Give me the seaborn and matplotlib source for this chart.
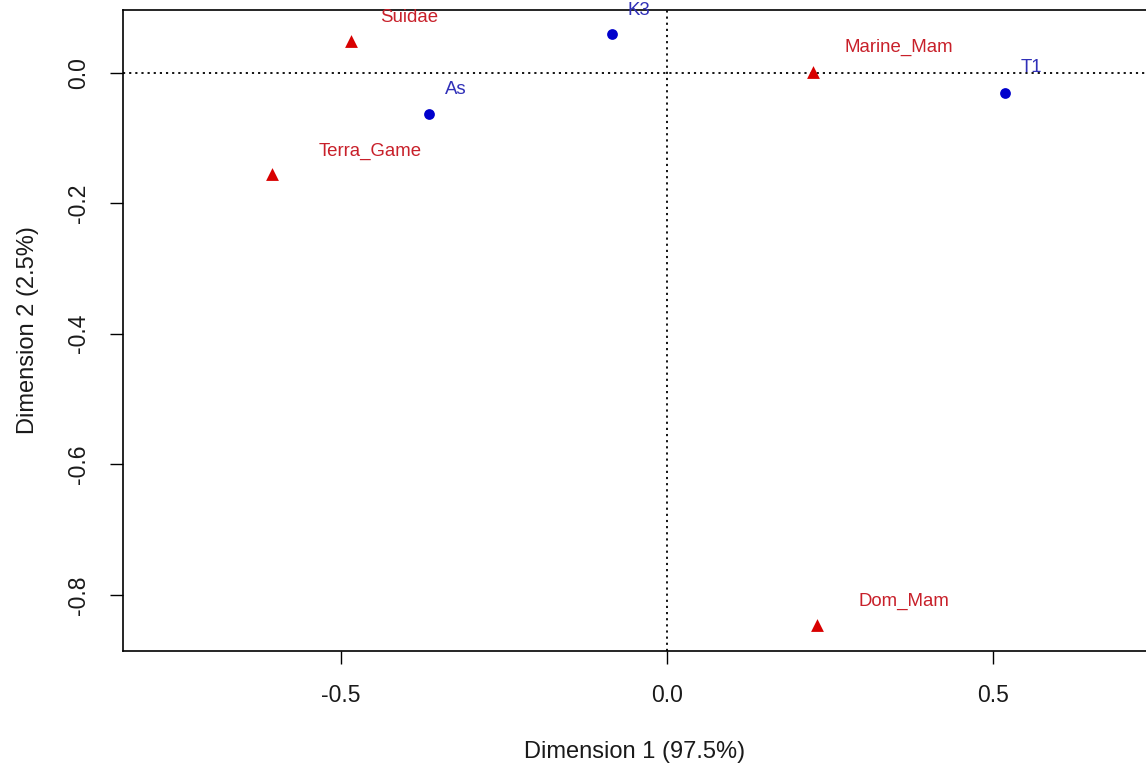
import matplotlib
matplotlib.use("Agg")
import matplotlib.pyplot as plt
import seaborn as sns
import pandas as pd

# Data
col_names = ["As", "K3", "T1"]
col_dim1 = [-0.364, -0.084, 0.519]
col_dim2 = [-0.063, 0.059, -0.031]

row_names = ["Suidae", "Terra_Game", "Marine_Mam", "Dom_Mam"]
row_dim1 = [-0.484, -0.605, 0.225, 0.230]
row_dim2 = [0.049, -0.155, 0.001, -0.846]

x_ticks = [-0.5, 0.0, 0.5]
y_ticks = [0.0, -0.2, -0.4, -0.6, -0.8]
x_label = "Dimension 1 (97.5%)"
y_label = "Dimension 2 (2.5%)"

# label offsets in pixels (label centre relative to marker)
label_offsets = {
    "As": (26, 24), "K3": (27, 24), "T1": (26, 25),
    "Suidae": (58, 23), "Terra_Game": (98, 22),
    "Marine_Mam": (85, 25), "Dom_Mam": (87, 23),
}

df = pd.DataFrame({
    "name": col_names + row_names,
    "dim1": col_dim1 + row_dim1,
    "dim2": col_dim2 + row_dim2,
    "kind": ["col"] * len(col_names) + ["row"] * len(row_names),
})

sns.set_style("white")
plt.rcParams["font.family"] = ["Liberation Sans", "DejaVu Sans"]
plt.rcParams["text.color"] = "black"
plt.rcParams["axes.labelcolor"] = "black"

fig = plt.figure(figsize=(11.46, 7.68), dpi=100)
ax = fig.add_axes([123 / 1146, 1 - 651 / 768, 1023 / 1146, 641 / 768])

marker_colors = {"col": "#0000cc", "row": "#d80000"}
text_colors = {"col": "#3030b8", "row": "#c8202a"}

ax.axhline(0, color="black", linestyle=(0, (1.2, 2.2)), linewidth=1.3, zorder=1)
ax.axvline(0, color="black", linestyle=(0, (1.2, 2.2)), linewidth=1.3, zorder=1)

sns.scatterplot(data=df[df.kind == "col"], x="dim1", y="dim2", ax=ax,
                color=marker_colors["col"], marker="o", s=60, linewidth=0,
                legend=False, zorder=3)
sns.scatterplot(data=df[df.kind == "row"], x="dim1", y="dim2", ax=ax,
                color=marker_colors["row"], marker="^", s=85, linewidth=0,
                legend=False, zorder=3)

for _, r in df.iterrows():
    dx, dy = label_offsets[r["name"]]
    ax.annotate(r["name"], (r["dim1"], r["dim2"]), xytext=(dx, dy),
                textcoords="offset pixels", ha="center", va="center",
                fontsize=13.4, color=text_colors[r["kind"]], zorder=4)

ax.set_xlim(-0.834, 0.735)
ax.set_ylim(-0.886, 0.096)
ax.set_xticks(x_ticks)
ax.set_xticklabels([f"{v:.1f}" for v in x_ticks])
ax.set_yticks(y_ticks)
ax.set_yticklabels([f"{v:.1f}" for v in y_ticks], rotation=90, va="center")

ax.tick_params(axis="both", direction="out", length=9.5, width=1.0,
               labelsize=16.5, colors="black", labelcolor="#1a1a1a", pad=14,
               left=True, bottom=True)

for side in ["left", "bottom", "top"]:
    ax.spines[side].set_color("black")
    ax.spines[side].set_linewidth(1.2)
    ax.spines[side].set_visible(True)
ax.spines["right"].set_visible(False)

ax.set_xlabel(x_label, fontsize=17, color="#1a1a1a")
ax.set_ylabel(y_label, fontsize=17, color="#1a1a1a")
ax.xaxis.set_label_coords(0.5, -(752 - 651) / 641)
ax.xaxis.label.set_va("center")
ax.yaxis.set_label_coords(-(123 - 28) / 1023, 0.5)
ax.yaxis.label.set_va("center")

fig.savefig("out.png", dpi=100)
